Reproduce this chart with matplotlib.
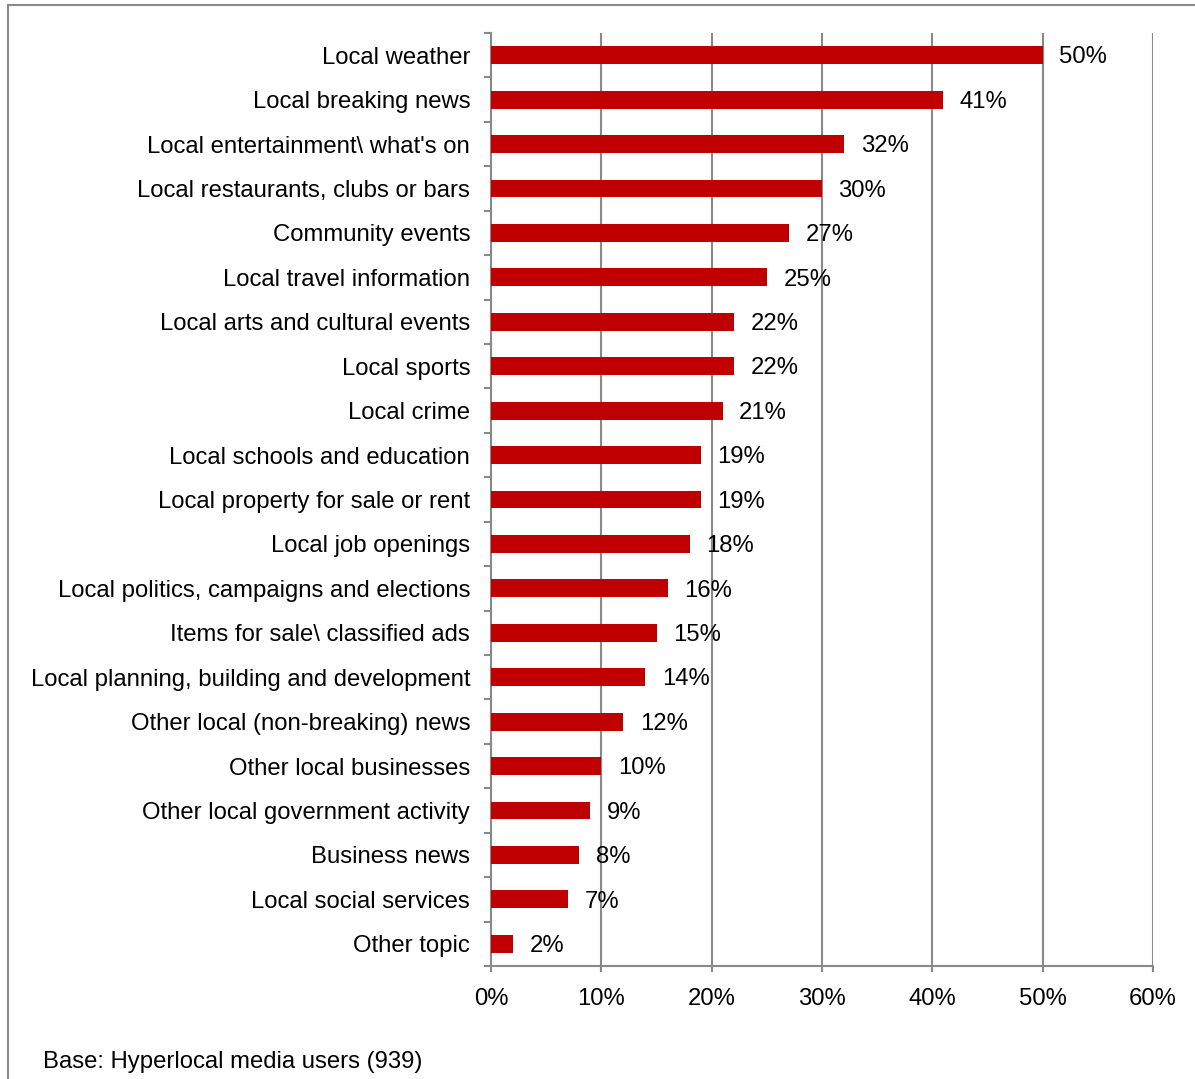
import matplotlib.pyplot as plt
from matplotlib.patches import Rectangle
from matplotlib.ticker import FuncFormatter, MultipleLocator

plt.rcParams["font.family"] = ["Liberation Sans", "DejaVu Sans"]

# =========== Data ============

topics = [
    "Local weather",
    "Local breaking news",
    "Local entertainment\\ what's on",
    "Local restaurants, clubs or bars",
    "Community events",
    "Local travel information",
    "Local arts and cultural events",
    "Local sports",
    "Local crime",
    "Local schools and education",
    "Local property for sale or rent",
    "Local job openings",
    "Local politics, campaigns and elections",
    "Items for sale\\ classified ads",
    "Local planning, building and development",
    "Other local (non-breaking) news",
    "Other local businesses",
    "Other local government activity",
    "Business news",
    "Local social services",
    "Other topic",
]
shares = [50, 41, 32, 30, 27, 25, 22, 22, 21, 19, 19, 18, 16, 15, 14, 12, 10, 9, 8, 7, 2]
base_note = "Base: Hyperlocal media users (939)"

BAR_COLOR = "#c00000"
GRID_COLOR = "#898989"
FS = 17.2
W, H = 1195, 1079

# =========== Figure ============

fig = plt.figure(figsize=(W / 100, H / 100), dpi=100)
ax = fig.add_axes([491 / W, 1 - 966 / H, (1153 - 491) / W, (966 - 33) / H])

# outer frame, only the top and left edges fall inside the image
fig.patches.append(Rectangle((8 / W, -0.2), 1.5, 1.2 - 5 / H, transform=fig.transFigure,
                             fill=False, edgecolor=GRID_COLOR, linewidth=1.5))

n = len(topics)
ypos = list(range(n))
ax.barh(ypos, shares, height=0.4, color=BAR_COLOR, zorder=3)
for y, v in zip(ypos, shares):
    ax.text(v + 1.5, y + 0.05, f"{v}%", va="center", ha="left", fontsize=FS, zorder=4)

ax.set_xlim(0, 60)
ax.set_ylim(n - 0.5, -0.5)
ax.xaxis.set_major_locator(MultipleLocator(10))
ax.xaxis.set_major_formatter(FuncFormatter(lambda x, _: f"{x:.0f}%"))
ax.grid(axis="x", color=GRID_COLOR, linewidth=1.5, zorder=0)

# category labels sit between the boundary tick marks
ax.set_yticks([y + 0.5 for y in range(-1, n)])
ax.set_yticklabels([])
ax.set_yticks(ypos, minor=True)
ax.set_yticklabels(topics, minor=True, fontsize=FS)
ax.tick_params(axis="y", which="minor", length=0, pad=15)
ax.tick_params(axis="y", which="major", length=5, width=1.5, color=GRID_COLOR)
ax.tick_params(axis="x", length=4.5, width=1.5, color=GRID_COLOR, labelsize=FS, pad=11)

for side in ["top", "right"]:
    ax.spines[side].set_visible(False)
for side in ["left", "bottom"]:
    ax.spines[side].set_color(GRID_COLOR)
    ax.spines[side].set_linewidth(1.5)

fig.text(43 / W, 1 - 1062 / H, base_note, fontsize=FS, va="center", ha="left")

fig.savefig("out.png", dpi=100)
